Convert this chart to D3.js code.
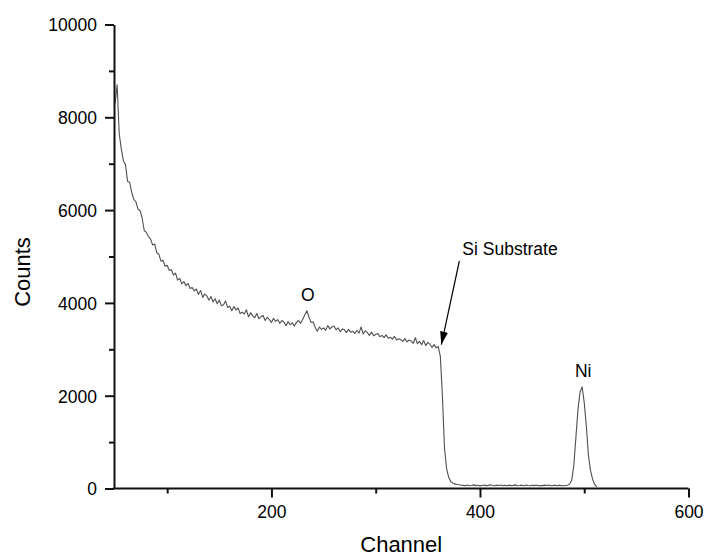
<!DOCTYPE html>
<html>
<head>
<meta charset="utf-8">
<script src="https://cdn.jsdelivr.net/npm/d3@7"></script>
<style>
  html, body { margin: 0; padding: 0; background: #fff; }
  svg { display: block; font-family: "Liberation Sans", Arial, sans-serif; }
</style>
</head>
<body>
<svg id="chart" width="704" height="556"></svg>
<script>
// RBS spectrum: counts per channel, sampled every second channel from channel 50
const firstChannel = 50;
const channelStep = 2;
const counts = [
  // 50 - 122
  8300, 8700, 7650, 7320, 7060, 6980, 6620, 6600, 6380, 6230,
  6180, 6020, 5990, 5830, 5560, 5520, 5430, 5380, 5250, 5270,
  5080, 5050, 4900, 4920, 4790, 4810, 4700, 4720, 4600, 4640,
  4490, 4530, 4410, 4460, 4370, 4420, 4310,
  // 124 - 242
  4330, 4260, 4300, 4180, 4270, 4120, 4190, 4150, 4060, 4140,
  4020, 4090, 3980, 4060, 3940, 3960, 4040, 3900, 3930, 3830,
  3920, 3850, 3890, 3770, 3800, 3760, 3850, 3700, 3790, 3720,
  3680, 3770, 3660, 3700, 3730, 3620, 3690, 3640, 3580, 3670,
  3600, 3640, 3560, 3620, 3590, 3510, 3600, 3530, 3570, 3500,
  3580, 3620, 3560, 3650, 3740, 3830, 3690, 3580, 3590, 3470,
  // 244 - 362
  3390, 3480, 3430, 3460, 3410, 3510, 3440, 3480, 3500, 3420,
  3460, 3380, 3440, 3420, 3360, 3430, 3370, 3390, 3340, 3410,
  3350, 3480, 3330, 3400, 3360, 3300, 3370, 3290, 3320, 3340,
  3270, 3300, 3250, 3310, 3240, 3260, 3220, 3280, 3200, 3230,
  3210, 3170, 3230, 3160, 3200, 3180, 3130, 3250, 3120, 3170,
  3100, 3190, 3080, 3150, 3110, 3040, 3100, 3030, 3060, 2850,
  // 364 - 382
  1980, 860, 430, 240, 150, 115, 100, 85, 80, 70,
  // 384 - 482
  68, 60, 74, 58, 64, 78, 62, 70, 56, 66,
  74, 62, 68, 80, 64, 58, 72, 66, 76, 60,
  70, 58, 72, 62, 68, 78, 60, 64, 72, 58,
  74, 64, 60, 70, 62, 76, 58, 66, 62, 72,
  64, 76, 60, 66, 70, 58, 72, 62, 60, 66,
  // 484 - 512
  70, 100, 180, 500, 1100, 1700, 2080, 2190, 1850, 1350,
  720, 390, 200, 90, 35
];

// Axis ticks
const xMajorTicks = [200, 400, 600];
const xMinorTicks = [100, 300, 500];
const yMajorTicks = [0, 2000, 4000, 6000, 8000, 10000];
const yMinorTicks = [1000, 3000, 5000, 7000, 9000];

// Peak annotations
const peakLabels = [
  { text: "O", channel: 234, value: 3830 },
  { text: "Ni", channel: 498, value: 2190 }
];
const edgeLabel = { text: "Si Substrate", channel: 362, value: 3060 };

const svg = d3.select("#chart");
const x = d3.scaleLinear().domain([49, 600]).range([114, 688.5]);
const y = d3.scaleLinear().domain([0, 10000]).range([488.5, 24.5]);

const points = counts.map((c, i) => [firstChannel + i * channelStep, c]);

// Spectrum trace
svg.append("path")
  .datum(points)
  .attr("fill", "none")
  .attr("stroke", "#505050")
  .attr("stroke-width", 1.1)
  .attr("stroke-linejoin", "round")
  .attr("d", d3.line().x(d => x(d[0])).y(d => y(d[1])));

const fontSize = 17.5;

// Axes
function styleAxis(g) {
  g.select(".domain").attr("stroke", "#111").attr("stroke-width", 2);
  g.selectAll(".tick line").attr("stroke", "#111").attr("stroke-width", 2);
  g.selectAll(".tick text")
    .attr("fill", "#000")
    .style("font-size", fontSize + "px")
    .style("font-family", '"Liberation Sans", Arial, sans-serif');
}

const xAxisMinor = svg.append("g")
  .attr("transform", `translate(0,${y(0)})`)
  .call(d3.axisBottom(x).tickValues(xMinorTicks).tickSize(5).tickSizeOuter(0).tickFormat(""));
xAxisMinor.select(".domain").remove();
xAxisMinor.selectAll(".tick line").attr("stroke", "#111").attr("stroke-width", 2);

const xAxis = svg.append("g")
  .attr("transform", `translate(0,${y(0)})`)
  .call(d3.axisBottom(x).tickValues(xMajorTicks).tickSize(9).tickSizeOuter(0).tickPadding(8).tickFormat(d3.format("d")));
styleAxis(xAxis);
xAxis.select(".domain").attr("d", `M${x.range()[0] - 1},0H${x.range()[1]}`);

const yAxisMinor = svg.append("g")
  .attr("transform", `translate(${x(49)},0)`)
  .call(d3.axisLeft(y).tickValues(yMinorTicks).tickSize(5).tickSizeOuter(0).tickFormat(""));
yAxisMinor.select(".domain").remove();
yAxisMinor.selectAll(".tick line").attr("stroke", "#111").attr("stroke-width", 2);

const yAxis = svg.append("g")
  .attr("transform", `translate(${x(49)},0)`)
  .call(d3.axisLeft(y).tickValues(yMajorTicks).tickSize(9).tickSizeOuter(0).tickPadding(8).tickFormat(d3.format("d")));
styleAxis(yAxis);
yAxis.selectAll(".tick text").attr("dy", "0.36em");

// Axis titles
svg.append("text")
  .attr("x", (x.range()[0] + x.range()[1]) / 2)
  .attr("y", 552)
  .attr("text-anchor", "middle")
  .style("font-size", "22px")
  .text("Channel");

svg.append("text")
  .attr("transform", "translate(30,272) rotate(-90)")
  .attr("text-anchor", "middle")
  .style("font-size", "22px")
  .text("Counts");

// Peak labels
svg.selectAll(".peak-label")
  .data(peakLabels)
  .join("text")
  .attr("class", "peak-label")
  .attr("x", d => x(d.channel) + 1)
  .attr("y", d => y(d.value) - 10)
  .attr("text-anchor", "middle")
  .style("font-size", fontSize + "px")
  .text(d => d.text);

// Arrow pointing at the substrate edge
svg.append("defs").append("marker")
  .attr("id", "arrowhead")
  .attr("viewBox", "0 0 13 8")
  .attr("refX", 13)
  .attr("refY", 4)
  .attr("markerWidth", 13)
  .attr("markerHeight", 8)
  .attr("markerUnits", "userSpaceOnUse")
  .attr("orient", "auto")
  .append("path")
  .attr("d", "M0,0L13,4L0,8Z")
  .attr("fill", "#000");

const tip = [x(edgeLabel.channel) + 1, y(edgeLabel.value) - 2];
svg.append("line")
  .attr("x1", tip[0] + 18)
  .attr("y1", 261)
  .attr("x2", tip[0])
  .attr("y2", tip[1])
  .attr("stroke", "#000")
  .attr("stroke-width", 1.2)
  .attr("marker-end", "url(#arrowhead)");

svg.append("text")
  .attr("x", tip[0] + 21)
  .attr("y", 255)
  .style("font-size", fontSize + "px")
  .text(edgeLabel.text);
</script>
</body>
</html>
